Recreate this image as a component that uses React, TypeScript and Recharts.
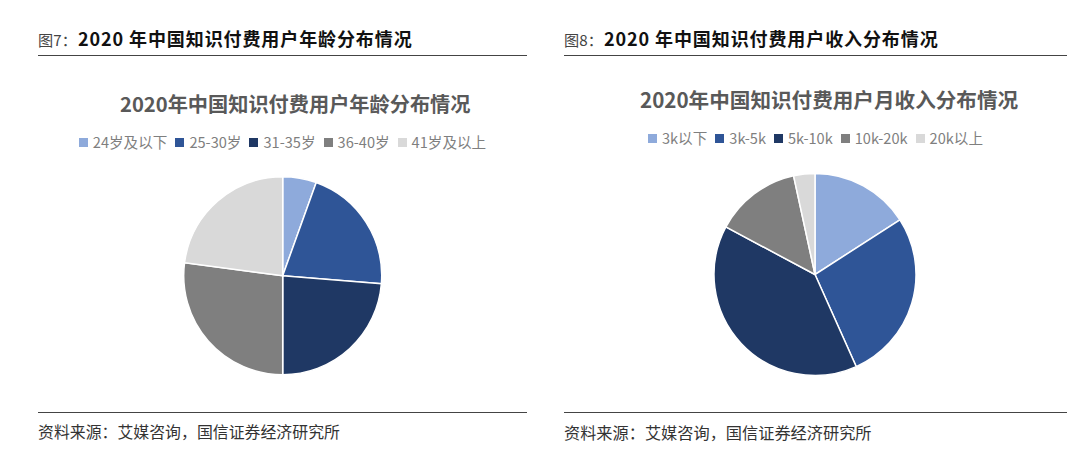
import { PieChart, Pie, Cell, Legend } from 'recharts'

const CJK = '"Noto Sans CJK SC", "Noto Sans", sans-serif'

const colors = ['#8eaadb', '#2f5597', '#1f3864', '#7f7f7f', '#d9d9d9']

const ageLabels = ['24岁及以下', '25-30岁', '31-35岁', '36-40岁', '41岁及以上']
const ageValues = [5.5, 20.8, 23.7, 27.1, 22.9]

const incomeLabels = ['3k以下', '3k-5k', '5k-10k', '10k-20k', '20k以上']
const incomeValues = [15.9, 27.4, 39.5, 13.8, 3.4]

const ageData = ageLabels.map((name, i) => ({ name, value: ageValues[i] }))
const incomeData = incomeLabels.map((name, i) => ({ name, value: incomeValues[i] }))

const source = '资料来源：艾媒咨询，国信证券经济研究所'

function PieLegend({ payload }: any) {
  return (
    <div style={{ display: 'flex', justifyContent: 'center', gap: 8, fontSize: 14.6, lineHeight: '16px', color: '#7f7f7f', whiteSpace: 'nowrap' }}>
      {(payload || []).map((p: any) => (
        <span key={p.value} style={{ display: 'flex', alignItems: 'center', gap: 5 }}>
          <span style={{ width: 9, height: 9, background: p.payload?.fill || p.color }} />
          {p.value}
        </span>
      ))}
    </div>
  )
}

interface PanelProps {
  left: number
  width: number
  figure: string
  heading: string
  title: string
  titleLeft: number
  titleTop: number
  titleSize: number
  legendTop: number
  sourceSize: number
  data: { name: string; value: number }[]
  cx: number
  cy: number
  radius: number
}

function Panel(p: PanelProps) {
  return (
    <div style={{ position: 'absolute', left: p.left, top: 0, width: p.width, height: 468 }}>
      <div style={{ position: 'absolute', left: 0, top: 25, lineHeight: '26px', color: '#111', whiteSpace: 'nowrap' }}>
        <span style={{ display: 'inline-block', width: 40, fontSize: 15.2, color: '#444' }}>{p.figure}：</span>
        <span style={{ fontSize: 18, fontWeight: 700, letterSpacing: 0.9 }}>{p.heading}</span>
      </div>
      <div style={{ position: 'absolute', left: 0, top: 55, width: p.width, height: 1, background: '#444' }} />
      <div style={{ position: 'absolute', left: p.titleLeft, top: p.titleTop, fontSize: p.titleSize, lineHeight: '28px', fontWeight: 700, color: '#595959', whiteSpace: 'nowrap' }}>
        {p.title}
      </div>
      <div style={{ position: 'absolute', left: 0, top: 0 }}>
        <PieChart width={p.width} height={400} margin={{ top: 0, right: 0, bottom: 0, left: 0 }}>
          <Legend
            content={<PieLegend />}
            verticalAlign="top"
            itemSorter={null}
            wrapperStyle={{ position: 'absolute', top: p.legendTop, left: 0, width: p.width }}
          />
          <Pie
            data={p.data}
            dataKey="value"
            nameKey="name"
            cx={p.cx}
            cy={p.cy}
            outerRadius={p.radius}
            startAngle={90}
            endAngle={-270}
            stroke="#fff"
            strokeWidth={1.5}
            isAnimationActive={false}
          >
            {p.data.map((d, i) => (
              <Cell key={d.name} fill={colors[i]} />
            ))}
          </Pie>
        </PieChart>
      </div>
      <div style={{ position: 'absolute', left: 0, top: 412, width: p.width, height: 1, background: '#444' }} />
      <div style={{ position: 'absolute', left: 0, top: 420, fontSize: p.sourceSize, lineHeight: '24px', color: '#333', whiteSpace: 'nowrap' }}>
        {source}
      </div>
    </div>
  )
}

export default function App() {
  return (
    <div style={{ position: 'absolute', left: 0, top: 0, width: 1080, height: 468, background: '#fff', overflow: 'hidden', fontFamily: CJK }}>
      <Panel
        left={38}
        width={489}
        figure="图7"
        heading="2020 年中国知识付费用户年龄分布情况"
        title="2020年中国知识付费用户年龄分布情况"
        titleLeft={82}
        titleTop={90}
        titleSize={20.2}
        legendTop={134}
        sourceSize={15.9}
        data={ageData}
        cx={244.7}
        cy={259.7}
        radius={99}
      />
      <Panel
        left={564}
        width={503}
        figure="图8"
        heading="2020 年中国知识付费用户收入分布情况"
        title="2020年中国知识付费用户月收入分布情况"
        titleLeft={76}
        titleTop={85}
        titleSize={20.6}
        legendTop={130}
        sourceSize={16.2}
        data={incomeData}
        cx={251}
        cy={258.5}
        radius={101}
      />
    </div>
  )
}
